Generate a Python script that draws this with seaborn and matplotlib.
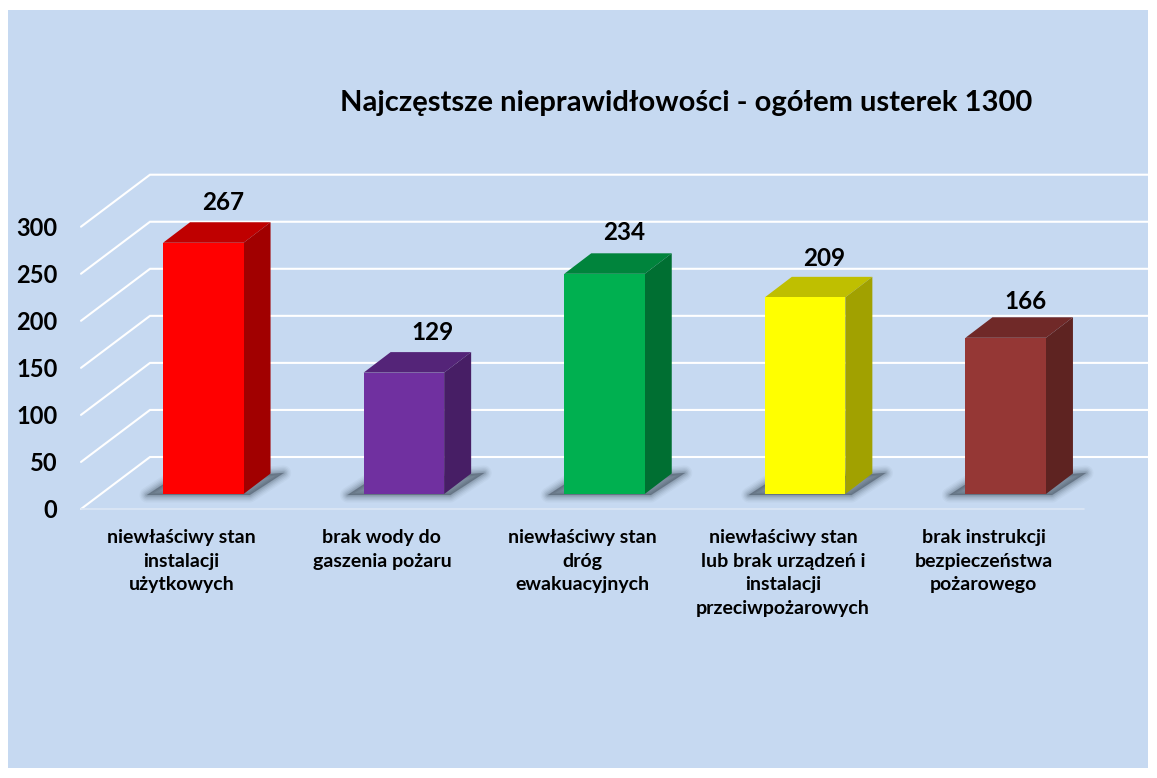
import matplotlib
matplotlib.use("Agg")
import matplotlib.pyplot as plt
from matplotlib.patches import Polygon, Rectangle
from matplotlib.transforms import ScaledTranslation
import numpy as np
import pandas as pd
import seaborn as sns

categories = [
    "niewłaściwy stan\ninstalacji\nużytkowych",
    "brak wody do\ngaszenia pożaru",
    "niewłaściwy stan\ndróg\newakuacyjnych",
    "niewłaściwy stan\nlub brak urządzeń i\ninstalacji\nprzeciwpożarowych",
    "brak instrukcji\nbezpieczeństwa\npożarowego",
]
values = [267, 129, 234, 209, 166]
colors = ["#FF0000", "#7030A0", "#00B050", "#FFFF00", "#953735"]
y_ticks = [0, 50, 100, 150, 200, 250, 300]
title = "Najczęstsze nieprawidłowości - ogółem usterek 1300"

W, H, DPI = 1157, 778, 100
sns.set_theme(style="white")
plt.rcParams["font.family"] = ["Lato", "DejaVu Sans"]
plt.rcParams["font.weight"] = "bold"

fig = plt.figure(figsize=(W / DPI, H / DPI), dpi=DPI, facecolor="white")
fig.add_artist(Rectangle((8 / W, 1 - 768 / H), 1140 / W, 758 / H,
                         transform=fig.transFigure, fc="#C6D9F1", ec="none", zorder=-5))

# front plane of the 3D chart
L, R, T, B = 81, 1084, 226.7, 509
ax = fig.add_axes([L / W, 1 - B / H, (R - L) / W, (B - T) / H])
ax.patch.set_alpha(0)

df = pd.DataFrame({"kategoria": categories, "liczba": values})
sns.barplot(data=df, x="kategoria", y="liczba", hue="kategoria", palette=colors,
            saturation=1, width=80.5 / ((R - L) / 5), legend=False, ax=ax)
bars = list(ax.patches)

ax.set_xlim(-0.5, 4.5)
ax.set_ylim(0, 300)
ax.set_xlabel("")
ax.set_ylabel("")
ax.set_yticks(y_ticks)
ax.tick_params(axis="y", length=0, pad=17, labelsize=17)
ax.tick_params(axis="x", length=0, pad=14.5, labelsize=14)
for t in ax.get_xticklabels():
    t.set_fontweight("bold")
    t.set_color("black")
    t.set_linespacing(1.47)
for t in ax.get_yticklabels():
    t.set_fontweight("bold")
    t.set_color("black")
sns.despine(ax=ax, left=True, bottom=True)

sx = (R - L) / 5      # pixels per category
sy = (B - T) / 300    # pixels per unit
px = lambda d: d / sx
py = lambda d: d / sy

# walls: grid lines going to the back plane
bdx, bdy, rx = 69, 52, 1153
for v in y_ticks:
    ax.plot([-0.5, -0.5 + px(bdx), -0.5 + px(rx - L)],
            [v, v + py(bdy), v + py(bdy)],
            color="white", lw=1.5, zorder=1, clip_on=False, solid_joinstyle="miter")
ax.plot([-0.5, 4.5], [0, 0], color="#DCE7F5", lw=1.2, zorder=1, clip_on=False)

# bars sit between the front and back planes
fdx, fdy = 22, 15
ddx, ddy = 27, 20.5


def shade(c, k):
    return tuple(k * np.array(matplotlib.colors.to_rgb(c)))


for bar, c, v in zip(bars, colors, values):
    bar.set_edgecolor("none")
    bar.set_zorder(4)
    bar.set_clip_on(False)
    bar.set_transform(ax.transData +
                      ScaledTranslation(fdx / DPI, fdy / DPI, fig.dpi_scale_trans))
    x0 = bar.get_x() + px(fdx)
    x1 = x0 + bar.get_width()
    y0 = py(fdy)
    y1 = v + py(fdy)
    # soft floor shadow
    sh = [(x0 - px(16), y0 - py(1)), (x0 + px(4), y0 + py(12)),
          (x1 + px(40), y0 + py(21)), (x1 + px(6), y0 - py(1))]
    for lw, a in [(11, .04), (9, .05), (7, .07), (5, .09), (3, .12), (1, .14)]:
        ax.add_patch(Polygon(sh, closed=True, fc="#33404E", ec="#33404E", lw=lw, alpha=a,
                             zorder=2, clip_on=False, joinstyle="round"))
    ax.add_patch(Polygon([(x0, y1), (x0 + px(ddx), y1 + py(ddy)),
                          (x1 + px(ddx), y1 + py(ddy)), (x1, y1)], closed=True,
                         fc=shade(c, .75), ec="none", zorder=3, clip_on=False))
    ax.add_patch(Polygon([(x1, y0), (x1 + px(ddx), y0 + py(ddy)),
                          (x1 + px(ddx), y1 + py(ddy)), (x1, y1)], closed=True,
                         fc=shade(c, .63), ec="none", zorder=3, clip_on=False))

nudge_x = {1: 9}
nudge_y = {0: -1, 1: -1, 3: -3, 4: -5}
for i, v in enumerate(values):
    ax.annotate(str(v), (i, v),
                xytext=((41.5 + nudge_x.get(i, 0)) * .72, (56.5 + nudge_y.get(i, 0)) * .72),
                textcoords="offset points", ha="center", va="center",
                fontsize=17.5, fontweight="bold", color="black", annotation_clip=False)

fig.text(686 / W, 1 - 103 / H, title, ha="center", va="center",
         fontsize=21, fontweight="bold", color="black")

fig.savefig("out.png", dpi=DPI, facecolor="white")
